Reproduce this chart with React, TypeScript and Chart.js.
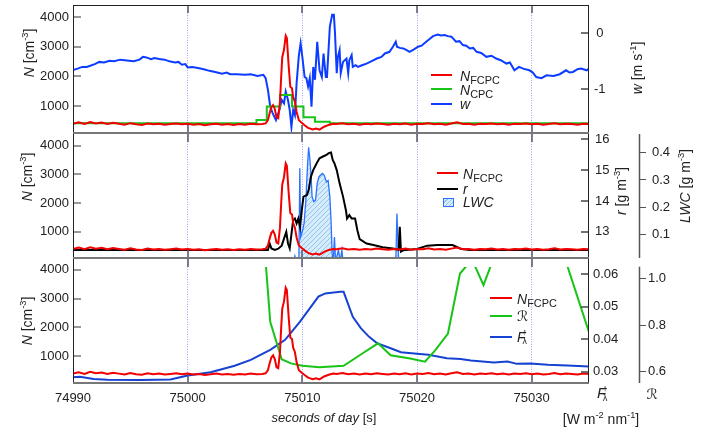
import React, { useEffect, useRef } from "react";
import { Chart, registerables } from "chart.js";

Chart.register(...registerables);

const FONT = "'Liberation Sans', Arial, Helvetica, 'DejaVu Sans', sans-serif";

// ---------------- axes / ticks ----------------
const X_MIN = 74990;
const X_MAX = 75035;
const X_TICKS = [74990, 75000, 75010, 75020, 75030];
const N_TICKS = [1000, 2000, 3000, 4000];
const W_TICKS = [0, -1];
const RAD_TICKS = [13, 14, 15, 16];
const LWC_TICKS = [0.1, 0.2, 0.3, 0.4];
const F_TICKS = [0.03, 0.04, 0.05, 0.06];
const REFL_TICKS = [0.6, 0.8, 1.0];

// ---------------- data ----------------
// N_FCPC [cm^-3]
const T_NF = [
  74990, 74990.5, 74991, 74991.5, 74992, 74992.5, 74993, 74993.5, 74994, 74994.5,
  74995, 74995.5, 74996, 74996.5, 74997, 74997.5, 74998, 74998.5, 74999, 74999.5,
  75000, 75000.5, 75001, 75001.5, 75002, 75002.5, 75003, 75003.5, 75004, 75004.5,
  75005, 75005.5, 75006, 75006.5, 75006.8, 75007.0, 75007.15, 75007.3, 75007.45, 75007.6,
  75007.75, 75007.9, 75008.05, 75008.15, 75008.25, 75008.4, 75008.55, 75008.65, 75008.8, 75008.95,
  75009.1, 75009.2, 75009.35, 75009.5, 75009.7, 75009.95, 75010.2, 75010.5, 75010.9, 75011.2,
  75011.5, 75011.9, 75012.3, 75012.7, 75013, 75013.5, 75014, 75014.5, 75015, 75015.5,
  75016, 75016.5, 75017, 75017.5, 75018, 75018.5, 75019, 75019.5, 75020, 75020.5,
  75021, 75021.5, 75022, 75022.5, 75023, 75023.5, 75024, 75024.5, 75025, 75025.5,
  75026, 75026.5, 75027, 75027.5, 75028, 75028.5, 75029, 75029.5, 75030, 75030.5,
  75031, 75031.5, 75032, 75032.5, 75033, 75033.5, 75034, 75034.5, 75035,
];
const NF = [
  400, 450, 390, 460, 410, 440, 390, 430, 400, 370,
  420, 380, 360, 410, 380, 400, 370, 390, 410, 380,
  400, 370, 390, 350, 380, 400, 370, 390, 360, 390,
  370, 400, 380, 390, 410, 520, 760, 960, 1030, 900,
  620, 590, 1150, 1950, 2650, 2900, 3380, 3300, 2400, 1650,
  1600, 1300, 1150, 800, 520, 430, 350, 260, 210, 240,
  200, 300, 360, 400, 390, 420, 380, 400, 370, 400,
  380, 410, 390, 370, 400, 380, 410, 370, 400, 390,
  420, 380, 400, 370, 410, 450, 390, 400, 370, 400,
  390, 410, 380, 400, 370, 400, 390, 410, 380, 400,
  370, 390, 420, 380, 400, 390, 370, 400, 390,
];

// N_CPC [cm^-3] (stepped)
const T_NC = [74990, 75006.0, 75006.9, 75008.05, 75009.1, 75010.1, 75011.1, 75012.4, 75035];
const NC = [420, 530, 980, 1370, 980, 620, 470, 420, 420];

// w [m s^-1]
const T_W = [
  74990, 74990.4, 74990.8, 74991.2, 74991.5, 74991.9, 74992.3, 74992.7, 74993.2, 74993.6,
  74994.1, 74994.5, 74994.9, 74995.3, 74995.8, 74996.1, 74996.4, 74996.8, 74997.1, 74997.5,
  74998.0, 74998.4, 74998.9, 74999.2, 74999.5, 74999.8, 75000.0, 75000.4, 75000.9, 75001.4,
  75001.9, 75002.4, 75003.0, 75003.4, 75003.7, 75004.3, 75005.0, 75005.5, 75006.1,
  75006.6, 75006.8, 75007.0, 75007.2, 75007.4, 75007.7, 75008.0, 75008.2, 75008.4, 75008.55,
  75008.75, 75008.9, 75009.05, 75009.2, 75009.35, 75009.5, 75009.7, 75009.85, 75010.0, 75010.2,
  75010.35, 75010.5, 75010.65, 75010.8, 75010.95, 75011.1, 75011.3, 75011.5, 75011.7, 75011.85,
  75012.05, 75012.15, 75012.4, 75012.6, 75012.75, 75012.85, 75013.0, 75013.1, 75013.25, 75013.35,
  75013.55, 75013.85, 75014.0, 75014.1, 75014.3, 75014.4, 75014.65, 75014.85, 75015.2, 75015.6,
  75016.0, 75016.5, 75016.9, 75017.2, 75017.6, 75017.9, 75018.15, 75018.25, 75018.5, 75018.8,
  75019.1, 75019.35, 75019.7, 75020.1, 75020.4, 75020.8, 75021.1, 75021.4, 75021.8, 75022.1,
  75022.4, 75022.7, 75023.0, 75023.4, 75023.7, 75024.0, 75024.3, 75024.6, 75024.9, 75025.2,
  75025.6, 75026.05, 75026.5, 75026.9, 75027.3, 75027.8, 75028.1, 75028.5, 75028.9, 75029.25,
  75029.8, 75030.1, 75030.4, 75030.85, 75031.3, 75031.9, 75032.45, 75033.0, 75033.3, 75033.6,
  75034.0, 75034.3, 75034.8, 75035,
];
const W = [
  -0.655, -0.63, -0.6, -0.6, -0.58, -0.55, -0.51, -0.52, -0.49, -0.5,
  -0.47, -0.48, -0.49, -0.5, -0.47, -0.42, -0.43, -0.46, -0.44, -0.46,
  -0.47, -0.5, -0.52, -0.51, -0.56, -0.55, -0.61, -0.6, -0.62, -0.64,
  -0.67, -0.69, -0.72, -0.7, -0.73, -0.73, -0.74, -0.73, -0.76,
  -0.74, -0.8, -1.01, -1.31, -1.42, -1.55, -1.37, -1.19, -1.25, -1.04,
  -1.19, -1.37, -1.67, -1.37, -1.46, -0.89, -0.39, -0.18, -0.42, -0.78,
  -0.8, -0.95, -0.8, -1.31, -0.6, -0.83, -0.15, -0.66, -0.78, -0.36,
  -0.78, -0.78, 0.12, 0.33, 0.33, 0.0, -0.71, -0.42, -0.3, -0.71,
  -0.51, -0.45, -0.71, -0.48, -0.39, -0.6, -0.57, -0.6, -0.57, -0.54,
  -0.5, -0.45, -0.42, -0.36, -0.33, -0.24, -0.15, -0.24, -0.26, -0.27,
  -0.3, -0.33, -0.29, -0.24, -0.22, -0.15, -0.1, -0.05, -0.02, -0.04,
  -0.03, -0.05, -0.06, -0.15, -0.14, -0.21, -0.22, -0.27, -0.26, -0.33,
  -0.35, -0.42, -0.4, -0.45, -0.48, -0.54, -0.52, -0.66, -0.6, -0.63,
  -0.66, -0.7, -0.78, -0.8, -0.75, -0.76, -0.73, -0.66, -0.7, -0.69,
  -0.64, -0.63, -0.66, -0.63,
];

// r [g m^-3]
const T_RAD = [
  74990, 75007.0, 75007.15, 75007.3, 75007.6, 75007.9, 75008.2, 75008.6, 75008.75, 75008.9,
  75009.2, 75009.35, 75009.5, 75009.65, 75009.8, 75009.95, 75010.1, 75010.4, 75010.55, 75010.75,
  75010.95, 75011.25, 75011.5, 75011.8, 75012.1, 75012.3, 75012.5, 75012.65, 75012.8, 75013.0,
  75013.25, 75013.55, 75013.8, 75013.9, 75014.1, 75014.3, 75014.6, 75014.8, 75015.0, 75015.6,
  75016.2, 75017.0, 75017.9, 75018.4, 75018.5, 75018.6, 75018.8, 75020.0, 75020.9, 75021.8,
  75023.1, 75023.8, 75024.6, 75035,
];
const RAD = [
  12.41, 12.41, 12.62, 12.46, 12.41, 12.45, 12.55, 13.0, 12.62, 12.46,
  13.38, 13.43, 13.27, 13.43, 13.16, 13.7, 14.14, 14.19, 14.35, 14.79,
  15.0, 15.22, 15.38, 15.44, 15.49, 15.55, 15.57, 15.33, 15.22, 15.0,
  14.57, 14.14, 13.7, 13.43, 13.54, 13.43, 13.43, 13.05, 12.76, 12.62,
  12.57, 12.5, 12.46, 12.42, 13.16, 12.36, 12.4, 12.44, 12.55, 12.57,
  12.57, 12.45, 12.41, 12.41,
];

// LWC [g m^-3]
const T_LWC = [
  74990, 75009.25, 75009.35, 75009.45, 75009.7, 75009.78, 75009.86, 75010.0, 75010.15, 75010.3,
  75010.45, 75010.55, 75010.65, 75010.75, 75010.85, 75011.0, 75011.15, 75011.3, 75011.45, 75011.75,
  75011.9, 75012.1, 75012.25, 75012.4, 75012.5, 75012.6, 75012.7, 75012.8, 75012.9, 75013.15,
  75013.3, 75013.45, 75013.55, 75018.15, 75018.25, 75018.4, 75035,
];
const LWC = [
  0, 0, 0.02, 0, 0, 0.343, 0.09, 0.11, 0.14, 0.22,
  0.35, 0.42, 0.38, 0.324, 0.238, 0.22, 0.226, 0.288, 0.312, 0.324,
  0.318, 0.293, 0.298, 0.238, 0.153, 0.03, 0, 0.09, 0, 0.042,
  0, 0.042, 0, 0, 0.177, 0, 0,
];

// Reflectivity R
const T_REFL = [
  75006.6, 75007.2, 75008.2, 75009.0, 75010.0, 75011.5, 75013.6, 75015.1, 75016.6, 75017.7,
  75019.4, 75020.7, 75021.6, 75022.7, 75023.75, 75024.8, 75025.8, 75027.0, 75029.0, 75031.0,
  75033.0, 75035.0,
];
const REFL = [
  1.2, 0.814, 0.654, 0.636, 0.626, 0.619, 0.626, 0.674, 0.722, 0.671,
  0.657, 0.643, 0.693, 0.764, 1.021, 1.081, 0.971, 1.128, 1.5, 1.5,
  1.07, 0.77,
];

// upward irradiance F [W m^-2 nm^-1]
const T_FUP = [
  74990, 74990.6, 74991.8, 74993.0, 74995.9, 74998.5, 75000.0, 75002.0, 75004.1, 75005.5,
  75007.2, 75008.5, 75009.8, 75011.4, 75012.0, 75013.3, 75013.6, 75014.4, 75015.1, 75015.8,
  75016.5, 75017.7, 75018.6, 75020.0, 75021.0, 75022.6, 75023.8, 75024.7, 75026.7, 75027.9,
  75028.7, 75029.9, 75031.4, 75033.1, 75035.0,
];
const FUP = [
  0.0283, 0.0284, 0.02775, 0.0275, 0.02745, 0.0276, 0.0288, 0.0298, 0.0318, 0.0336,
  0.0367, 0.0398, 0.0454, 0.0531, 0.0541, 0.0546, 0.0546, 0.0469, 0.0434, 0.0408,
  0.0388, 0.0372, 0.036, 0.0355, 0.0352, 0.0341, 0.0339, 0.0334, 0.0328, 0.0331,
  0.0324, 0.0325, 0.0321, 0.0319, 0.0316,
];

// ---------------- styling ----------------
const RED = "#f20000";
const GREEN = "#18c418";
const BLUE_W = "#0c3cff";
const BLUE_F = "#1642d2";
const BLUE_LWC = "#2a72ff";
const TXT = "#222";

const pts = (t: number[], v: number[]) => t.map((x, i) => ({ x, y: v[i] }));
const tickFont = { family: FONT, size: 13 };

function hatchPattern(): CanvasPattern | string {
  const c = document.createElement("canvas");
  c.width = 5;
  c.height = 5;
  const g = c.getContext("2d");
  if (!g) return "#d0e8f8";
  g.fillStyle = "#d6ecfa";
  g.fillRect(0, 0, 5, 5);
  g.strokeStyle = "#92c6ee";
  g.lineWidth = 1;
  g.beginPath();
  g.moveTo(-1, 6);
  g.lineTo(6, -1);
  g.stroke();
  const p = g.createPattern(c, "repeat");
  return p || "#d0e8f8";
}

const noPad = (s: any) => {
  s.paddingTop = 0;
  s.paddingBottom = 0;
  s.paddingLeft = 0;
  s.paddingRight = 0;
};

const xScale = (showLabels: boolean, h: number) => ({
  type: "linear",
  min: X_MIN,
  max: X_MAX,
  afterBuildTicks: (s: any) => {
    s.ticks = X_TICKS.map((v) => ({ value: v }));
  },
  afterFit: (s: any) => {
    s.height = h;
    noPad(s);
  },
  grid: {
    display: true,
    drawTicks: false,
    drawOnChartArea: true,
    color: (c: any) => (c.tick && c.tick.value === X_MIN ? "rgba(0,0,0,0)" : "#a2a2f4"),
    lineWidth: 1,
  },
  border: { display: false, dash: [1, 1.5] },
  ticks: {
    display: showLabels,
    padding: 8,
    color: TXT,
    font: tickFont,
    maxRotation: 0,
    autoSkip: false,
    callback: (v: any) => String(v),
  },
});

const nScale = (min: number, max: number) => ({
  type: "linear",
  position: "left",
  min,
  max,
  afterBuildTicks: (s: any) => {
    s.ticks = N_TICKS.map((v) => ({ value: v }));
  },
  afterFit: (s: any) => {
    s.width = 73;
    noPad(s);
  },
  grid: { display: false, drawTicks: false, tickLength: 0 },
  border: { display: false },
  ticks: { padding: 4, color: TXT, font: tickFont, callback: (v: any) => String(v) },
});

const innerRight = (
  min: number,
  max: number,
  ticks: number[],
  fmt: (v: number) => string,
  width: number,
  padding: number,
  align: string
) => ({
  type: "linear",
  position: "right",
  weight: 0,
  min,
  max,
  afterBuildTicks: (s: any) => {
    s.ticks = ticks.map((v) => ({ value: v }));
  },
  afterFit: (s: any) => {
    s.width = width;
    noPad(s);
  },
  grid: { display: false, drawTicks: false, tickLength: 0 },
  border: { display: false },
  ticks: { padding, crossAlign: align, color: TXT, font: tickFont, callback: (v: any) => fmt(v) },
});

const outerRight = (
  min: number,
  max: number,
  ticks: number[],
  fmt: (v: number) => string,
  width: number,
  padding: number
) => ({
  type: "linear",
  position: "right",
  weight: 1,
  min,
  max,
  afterBuildTicks: (s: any) => {
    s.ticks = ticks.map((v) => ({ value: v }));
  },
  afterFit: (s: any) => {
    s.width = width;
    noPad(s);
  },
  grid: { display: true, drawOnChartArea: false, drawTicks: true, tickLength: 7, color: "#555", lineWidth: 1 },
  border: { display: false },
  ticks: { padding, color: TXT, font: tickFont, callback: (v: any) => fmt(v) },
});

// frame / inward tick decoration plugin
const framePlugin = {
  id: "frame",
  afterDatasetsDraw(chart: any, _args: any, o: any) {
    const { ctx, chartArea } = chart;
    const { left, right, top, bottom } = chartArea;
    const line = (x1: number, y1: number, x2: number, y2: number) => {
      ctx.beginPath();
      ctx.moveTo(x1, y1);
      ctx.lineTo(x2, y2);
      ctx.stroke();
    };
    ctx.save();
    const xs = chart.scales.x;
    ctx.strokeStyle = "#55556a";
    ctx.lineWidth = 1.5;
    for (const v of X_TICKS) {
      if (v === X_MIN) continue;
      const px = Math.round(xs.getPixelForValue(v));
      line(px, top, px, top + 8);
      line(px, bottom, px, bottom - 8);
    }
    const ys = chart.scales.y;
    ctx.strokeStyle = "#777";
    ctx.lineWidth = 1.5;
    for (const v of N_TICKS) {
      const py = Math.round(ys.getPixelForValue(v));
      line(left, py, left + 8, py);
    }
    if (o.inner) {
      const s = chart.scales[o.inner];
      ctx.strokeStyle = "#444";
      for (const v of o.innerTicks) {
        const py = Math.round(s.getPixelForValue(v));
        line(right - 8, py, right, py);
      }
    }
    if (o.outer) {
      const s = chart.scales[o.outer];
      const y0 = o.outerTopValue != null ? s.getPixelForValue(o.outerTopValue) : top;
      ctx.strokeStyle = "#555";
      ctx.lineWidth = 1.5;
      line(Math.round(s.left) + 0.5, y0, Math.round(s.left) + 0.5, bottom);
    }
    ctx.strokeStyle = "#222";
    ctx.lineWidth = 1;
    line(left + 0.5, top, left + 0.5, bottom);
    line(right - 0.5, top, right - 0.5, bottom);
    if (o.topLine) line(left, top + 0.5, right, top + 0.5);
    ctx.strokeStyle = "#777";
    ctx.lineWidth = 2;
    line(left, bottom, right, bottom);
    ctx.restore();
  },
};

const baseOptions = (padTop: number, padBottom: number, frame: any, scales: any) => ({
  responsive: false,
  maintainAspectRatio: false,
  animation: false,
  events: [],
  layout: { padding: { top: padTop, bottom: padBottom, left: 0, right: 0 } },
  elements: { point: { radius: 0 }, line: { tension: 0 } },
  plugins: { legend: { display: false }, tooltip: { enabled: false }, frame },
  scales,
});

function buildTop(): any {
  return {
    type: "line",
    data: {
      datasets: [
        { data: pts(T_NF, NF), yAxisID: "y", borderColor: RED, borderWidth: 2 },
        { data: pts(T_NC, NC), yAxisID: "y", borderColor: GREEN, borderWidth: 2, stepped: "before" },
        { data: pts(T_W, W), yAxisID: "yw", borderColor: BLUE_W, borderWidth: 2 },
      ],
    },
    options: baseOptions(
      5,
      7,
      { topLine: true, inner: "yw", innerTicks: W_TICKS },
      {
        x: xScale(false, 0),
        y: nScale(87, 4416),
        yw: innerRight(-1.78, 0.506, W_TICKS, (v) => String(v), 129, 5, "center"),
      }
    ),
    plugins: [framePlugin],
  };
}

function buildMid(): any {
  return {
    type: "line",
    data: {
      datasets: [
        { data: pts(T_NF, NF), yAxisID: "y", borderColor: RED, borderWidth: 2 },
        { data: pts(T_RAD, RAD), yAxisID: "yr", borderColor: "#000", borderWidth: 2 },
        {
          data: pts(T_LWC, LWC),
          yAxisID: "yl",
          borderColor: BLUE_LWC,
          borderWidth: 1.3,
          fill: { value: 0 },
          backgroundColor: hatchPattern(),
        },
      ],
    },
    options: baseOptions(
      6,
      10,
      { topLine: false, inner: "yr", innerTicks: RAD_TICKS, outer: "yl" },
      {
        x: xScale(false, 0),
        y: nScale(83, 4408),
        yr: innerRight(12.15, 16.17, RAD_TICKS, (v) => String(v), 50, 6, "near"),
        yl: outerRight(0.013, 0.469, LWC_TICKS, (v) => v.toFixed(1), 79, 6),
      }
    ),
    plugins: [framePlugin],
  };
}

function buildBot(): any {
  return {
    type: "line",
    data: {
      datasets: [
        { data: pts(T_NF, NF), yAxisID: "y", borderColor: RED, borderWidth: 2 },
        {
          data: pts(T_REFL, REFL),
          yAxisID: "yR",
          borderColor: GREEN,
          borderWidth: 2,
          clip: { left: 0, right: 0, bottom: 0, top: -8 },
        },
        { data: pts(T_FUP, FUP), yAxisID: "yF", borderColor: BLUE_F, borderWidth: 2 },
      ],
    },
    options: baseOptions(
      7,
      0,
      { topLine: false, inner: "yF", innerTicks: F_TICKS, outer: "yR", outerTopValue: 1.05 },
      {
        x: xScale(true, 48),
        y: nScale(75, 4370),
        yF: innerRight(0.0265, 0.0647, F_TICKS, (v) => v.toFixed(2), 50, 4, "near"),
        yR: outerRight(0.552, 1.083, REFL_TICKS, (v) => v.toFixed(1), 79, 2),
      }
    ),
    plugins: [framePlugin],
  };
}

function Panel({ top, height, build }: { top: number; height: number; build: () => any }) {
  const ref = useRef<HTMLCanvasElement | null>(null);
  useEffect(() => {
    if (!ref.current) return;
    const chart = new Chart(ref.current, build());
    return () => chart.destroy();
  }, [build]);
  return (
    <canvas
      ref={ref}
      width={718}
      height={height}
      style={{ position: "absolute", left: 0, top, width: 718, height, display: "block" }}
    />
  );
}

// ---------------- text helpers ----------------
const Sup = ({ children }: { children: React.ReactNode }) => (
  <span style={{ fontSize: "0.66em", position: "relative", top: "-0.6em" }}>{children}</span>
);
const Sub = ({ children }: { children: React.ReactNode }) => (
  <span style={{ fontSize: "0.78em", position: "relative", top: "0.25em" }}>{children}</span>
);

const VText = ({ x, y, children }: { x: number; y: number; children: React.ReactNode }) => (
  <div
    style={{
      position: "absolute",
      left: x,
      top: y,
      transform: "translate(-50%, -50%) rotate(-90deg)",
      whiteSpace: "nowrap",
      fontSize: 14,
      lineHeight: "16px",
      color: TXT,
    }}
  >
    {children}
  </div>
);

const HText = ({
  x,
  y,
  children,
  size = 14,
  center = false,
}: {
  x: number;
  y: number;
  children: React.ReactNode;
  size?: number;
  center?: boolean;
}) => (
  <div
    style={{
      position: "absolute",
      left: x,
      top: y,
      transform: center ? "translate(-50%, -50%)" : "translateY(-50%)",
      whiteSpace: "nowrap",
      fontSize: size,
      lineHeight: "16px",
      color: TXT,
    }}
  >
    {children}
  </div>
);

const LLine = ({ x1, x2, y, color }: { x1: number; x2: number; y: number; color: string }) => (
  <div style={{ position: "absolute", left: x1, top: y - 1, width: x2 - x1, height: 2, background: color }} />
);

const FUp = () => (
  <span style={{ position: "relative", display: "inline-block", paddingRight: "0.55em" }}>
    <i>F</i>
    <span style={{ position: "absolute", left: "0.62em", top: "-0.55em", fontSize: "0.62em" }}>↑</span>
    <span style={{ position: "absolute", left: "0.62em", top: "0.5em", fontSize: "0.62em" }}>λ</span>
  </span>
);

const NCm = () => (
  <>
    <i>N</i> [cm<Sup>-3</Sup>]
  </>
);

const REFL_SYM = "\u211B";

export default function App() {
  return (
    <div
      style={{
        position: "absolute",
        left: 0,
        top: 0,
        width: 718,
        height: 431,
        background: "#fff",
        fontFamily: FONT,
        overflow: "hidden",
      }}
    >
      <Panel top={0} height={140} build={buildTop} />
      <Panel top={128} height={140} build={buildMid} />
      <Panel top={252} height={179} build={buildBot} />

      {/* left titles */}
      <VText x={30} y={53}>
        <NCm />
      </VText>
      <VText x={28} y={177}>
        <NCm />
      </VText>
      <VText x={28} y={321}>
        <NCm />
      </VText>

      {/* right titles */}
      <VText x={638} y={68}>
        <i>w</i> [m s<Sup>-1</Sup>]
      </VText>
      <VText x={622} y={191}>
        <i>r</i> [g m<Sup>-3</Sup>]
      </VText>
      <VText x={686} y={186}>
        <i>LWC</i> [g m<Sup>-3</Sup>]
      </VText>

      {/* bottom labels */}
      <HText x={324} y={418} size={13} center>
        <i>seconds of day</i> [s]
      </HText>
      <HText x={597} y={393} size={15}>
        <FUp />
      </HText>
      <HText x={652} y={394} size={14} center>
        {REFL_SYM}
      </HText>
      <HText x={601} y={420} size={14} center>
        [W m<Sup>-2</Sup> nm<Sup>-1</Sup>]
      </HText>

      {/* legend top */}
      <LLine x1={431} x2={452} y={75} color={RED} />
      <HText x={460} y={76}>
        <i>N</i>
        <Sub>FCPC</Sub>
      </HText>
      <LLine x1={431} x2={452} y={89} color={GREEN} />
      <HText x={460} y={90}>
        <i>N</i>
        <Sub>CPC</Sub>
      </HText>
      <LLine x1={431} x2={452} y={104} color={BLUE_W} />
      <HText x={460} y={104}>
        <i>w</i>
      </HText>

      {/* legend middle */}
      <LLine x1={437} x2={458} y={173} color={RED} />
      <HText x={463} y={174}>
        <i>N</i>
        <Sub>FCPC</Sub>
      </HText>
      <LLine x1={437} x2={458} y={189} color="#000" />
      <HText x={463} y={189}>
        <i>r</i>
      </HText>
      <div
        style={{
          position: "absolute",
          left: 443,
          top: 198,
          width: 9,
          height: 7,
          border: `1px solid ${BLUE_LWC}`,
          background: "repeating-linear-gradient(135deg, #d6ecfa 0px, #d6ecfa 2px, #92c6ee 2px, #92c6ee 3px)",
        }}
      />
      <HText x={463} y={202}>
        <i>LWC</i>
      </HText>

      {/* legend bottom */}
      <LLine x1={490} x2={512} y={298} color={RED} />
      <HText x={517} y={299}>
        <i>N</i>
        <Sub>FCPC</Sub>
      </HText>
      <LLine x1={490} x2={512} y={316} color={GREEN} />
      <HText x={517} y={316}>
        {REFL_SYM}
      </HText>
      <LLine x1={490} x2={512} y={337} color={BLUE_F} />
      <HText x={517} y={337}>
        <FUp />
      </HText>
    </div>
  );
}
